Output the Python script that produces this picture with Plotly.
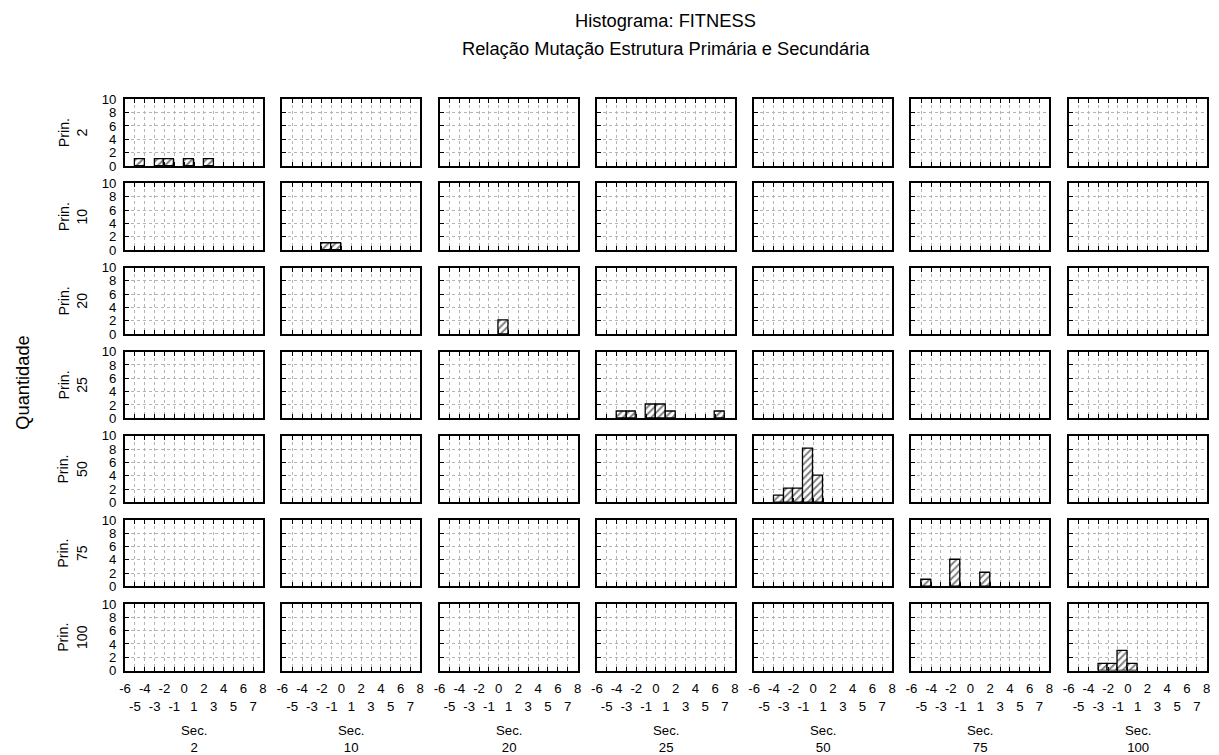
import plotly.graph_objects as go

# Mutation rates (primary structure on rows, secondary structure on columns)
prin_levels = [2, 10, 20, 25, 50, 75, 100]
sec_levels = [2, 10, 20, 25, 50, 75, 100]

# Histogram bins of FITNESS (bin centres, unit-width bins) per diagonal cell
fit_2_x = [-4.5, -2.5, -1.5, 0.5, 2.5]
fit_2_n = [1, 1, 1, 1, 1]
fit_10_x = [-1.5, -0.5]
fit_10_n = [1, 1]
fit_20_x = [0.5]
fit_20_n = [2]
fit_25_x = [-3.5, -2.5, -0.5, 0.5, 1.5, 6.5]
fit_25_n = [1, 1, 2, 2, 1, 1]
fit_50_x = [-3.5, -2.5, -1.5, -0.5, 0.5]
fit_50_n = [1, 2, 2, 8, 4]
fit_75_x = [-4.5, -1.5, 1.5]
fit_75_n = [1, 4, 2]
fit_100_x = [-2.5, -1.5, -0.5, 0.5]
fit_100_n = [1, 1, 3, 1]

# (row index, col index) -> histogram
cells = {
    (0, 0): (fit_2_x, fit_2_n),
    (1, 1): (fit_10_x, fit_10_n),
    (2, 2): (fit_20_x, fit_20_n),
    (3, 3): (fit_25_x, fit_25_n),
    (4, 4): (fit_50_x, fit_50_n),
    (5, 5): (fit_75_x, fit_75_n),
    (6, 6): (fit_100_x, fit_100_n),
}

x_ticks = list(range(-6, 9))
# even values on the first label line, odd values staggered onto the second
x_ticktext = [str(v) if v % 2 == 0 else "<br>" + str(v) for v in x_ticks]
y_ticks = [0, 2, 4, 6, 8, 10]

# Layout is designed on a 1219x755 canvas and mapped to page pixels
SX, SY = 0.992, 0.979
DX, DY = 3.0, 1.0
OFF = 8                                   # default body margin
W, H = 1224, 764


def page_x(v):
    return (v + DX) / SX


def page_y(v):
    return (v + DY) / SY


def px_x(v):
    return (page_x(v) - OFF) / W


def px_y(v):
    return 1 - (page_y(v) - OFF) / H


def fs(v):
    return round(v / ((SX * SY) ** 0.5), 1)


# panel grid on the design canvas
left0, col_pitch, pw = 124, 157.3, 138
top0, row_pitch, ph = 99, 84, 66.5

FONT = "Liberation Sans, Arial, sans-serif"

fig = go.Figure()
layout = dict(
    width=W, height=H,
    margin=dict(l=0, r=0, t=0, b=0),
    paper_bgcolor="white", plot_bgcolor="white",
    showlegend=False, bargap=0,
    font=dict(family=FONT, color="black"),
)
annotations = []

for r in range(7):
    for c in range(7):
        n = r * 7 + c + 1
        xs = "" if n == 1 else str(n)
        xl = left0 + c * col_pitch
        ytop = top0 + r * row_pitch

        if (r, c) in cells:
            bx, bn = cells[(r, c)]
            fig.add_trace(go.Bar(
                x=bx, y=bn, width=1,
                xaxis="x" + xs, yaxis="y" + xs,
                marker=dict(
                    color="white",
                    line=dict(color="black", width=1.3),
                    pattern=dict(shape="/", fgcolor="black", bgcolor="white",
                                 size=5, solidity=0.4),
                ),
                hoverinfo="x+y",
            ))
        else:
            fig.add_trace(go.Scatter(x=[None], y=[None], xaxis="x" + xs,
                                     yaxis="y" + xs, showlegend=False))

        layout["xaxis" + xs] = dict(
            domain=[px_x(xl), px_x(xl + pw)], anchor="y" + xs, range=[-6, 8],
            tickmode="array", tickvals=x_ticks, ticktext=x_ticktext,
            tickangle=0, ticklabelstandoff=5,
            showticklabels=(r == 6),
            tickfont=dict(size=fs(13), family=FONT),
            ticks="inside", ticklen=4, tickwidth=1, tickcolor="black",
            showline=True, linewidth=2, linecolor="black", mirror="ticks",
            showgrid=True, gridcolor="#b4b4b4", griddash="dot", gridwidth=1,
            zeroline=False, fixedrange=True,
        )
        layout["yaxis" + xs] = dict(
            domain=[px_y(ytop + ph), px_y(ytop)], anchor="x" + xs,
            range=[0, 10],
            tickmode="array", tickvals=y_ticks, ticklabelstandoff=4,
            showticklabels=(c == 0),
            tickfont=dict(size=fs(13), family=FONT),
            ticks="inside", ticklen=4, tickwidth=1, tickcolor="black",
            showline=True, linewidth=2, linecolor="black", mirror=True,
            showgrid=True, gridcolor="#b4b4b4", griddash="dot", gridwidth=1,
            zeroline=False, fixedrange=True,
        )

# row labels (primary mutation rate)
for r, p in enumerate(prin_levels):
    yc = top0 + r * row_pitch + ph / 2
    annotations.append(dict(
        text="Prin.<br>%d" % p, x=px_x(71.5), y=px_y(yc), xref="paper",
        yref="paper", showarrow=False, textangle=-90,
        font=dict(size=fs(14), family=FONT),
        xanchor="center", yanchor="middle"))

# column labels (secondary mutation rate)
for c, s in enumerate(sec_levels):
    xc = left0 + c * col_pitch + pw / 2
    annotations.append(dict(
        text="Sec.<br>%d" % s, x=px_x(xc), y=px_y(738), xref="paper",
        yref="paper", showarrow=False,
        font=dict(size=fs(13), family=FONT),
        xanchor="center", yanchor="middle"))

plot_cx = px_x((left0 + (left0 + 6 * col_pitch + pw)) / 2)
annotations += [
    dict(text="Histograma: FITNESS", x=plot_cx, y=px_y(20), xref="paper",
         yref="paper", showarrow=False, font=dict(size=fs(18), family=FONT),
         xanchor="center", yanchor="middle"),
    dict(text="Relação Mutação Estrutura Primária e Secundária", x=plot_cx,
         y=px_y(48), xref="paper", yref="paper", showarrow=False,
         font=dict(size=fs(18), family=FONT),
         xanchor="center", yanchor="middle"),
    dict(text="Quantidade", x=px_x(22), y=px_y(382), xref="paper",
         yref="paper", showarrow=False, textangle=-90,
         font=dict(size=fs(18), family=FONT),
         xanchor="center", yanchor="middle"),
]
layout["annotations"] = annotations

fig.update_layout(**layout)
fig.write_html("out.html")
